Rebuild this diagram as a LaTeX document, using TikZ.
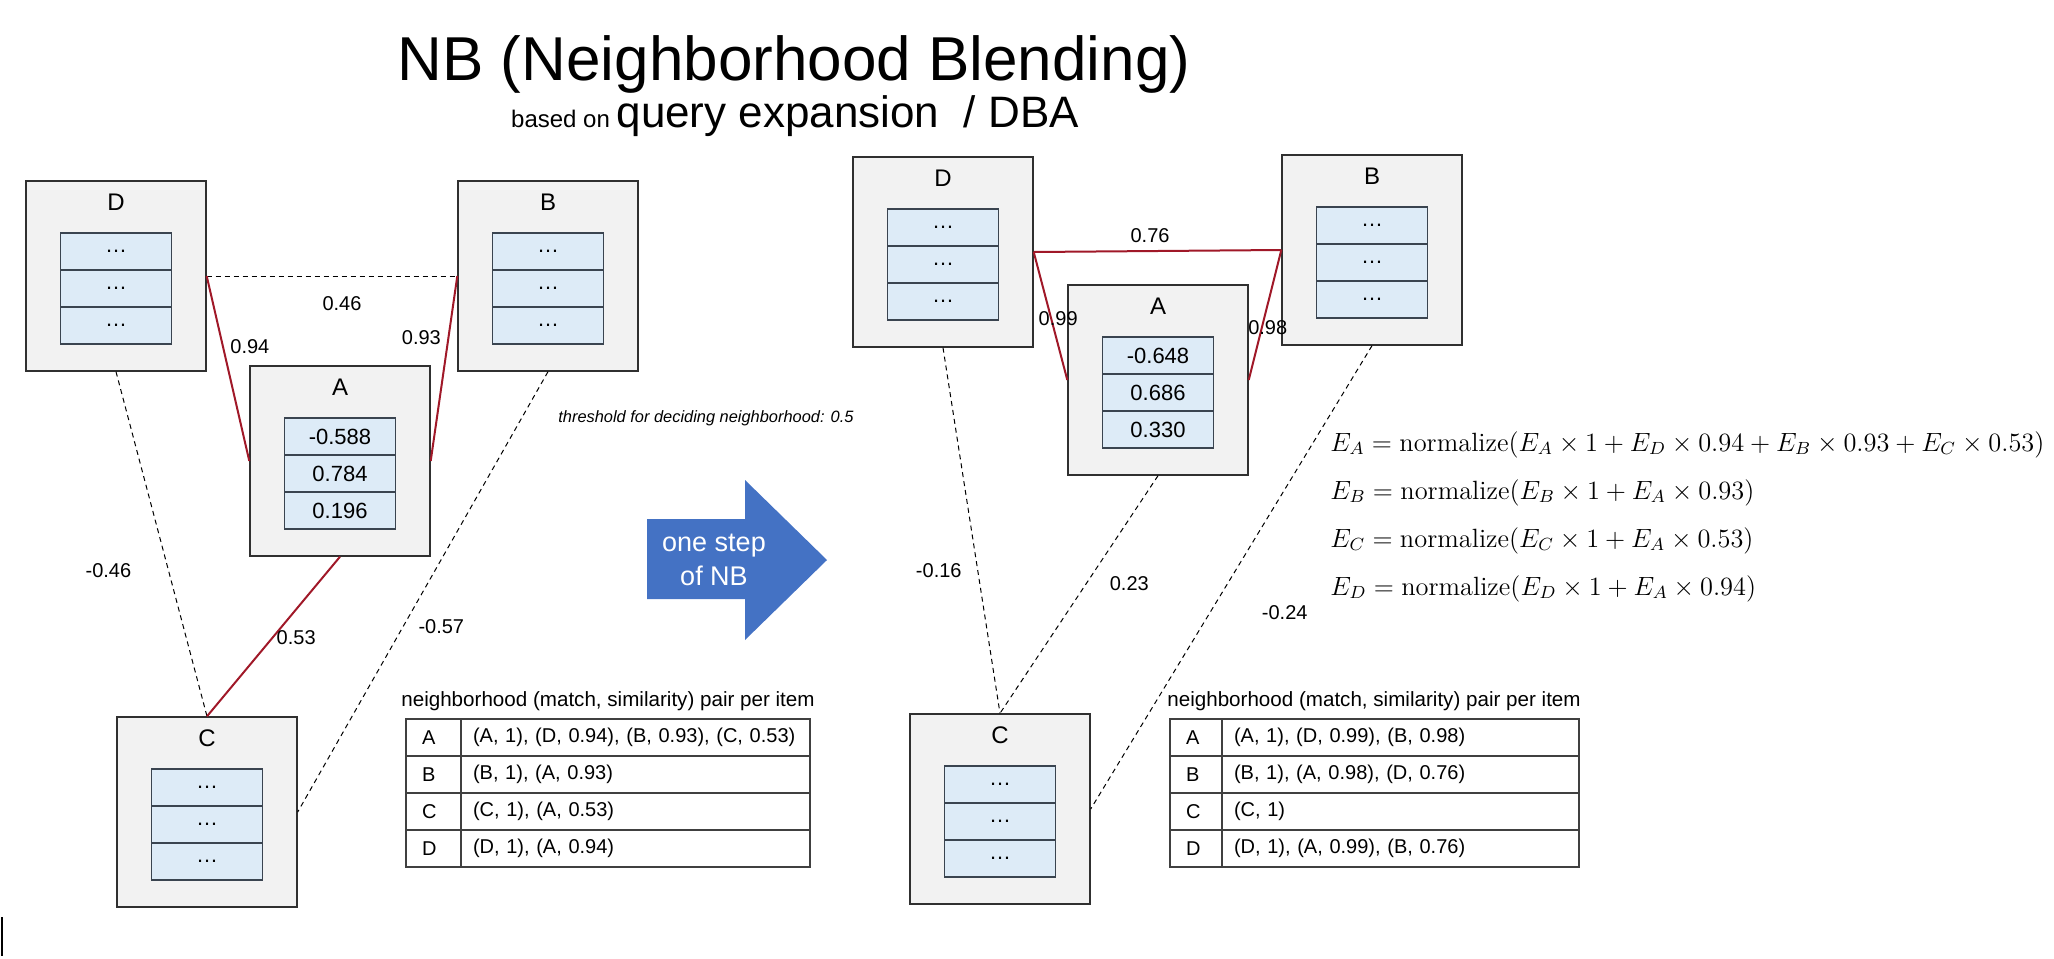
\documentclass[tikz,border=0pt]{standalone}
\usepackage{fontspec}
\newfontfamily\arialfont{Liberation Sans}
\usetikzlibrary{positioning}
\definecolor{boxgray}{HTML}{F2F2F2}
\definecolor{boxline}{HTML}{303030}
\definecolor{cellblue}{HTML}{DDEBF7}
\definecolor{cellline}{HTML}{3A4450}
\definecolor{simred}{HTML}{A01828}
\definecolor{stepblue}{HTML}{4472C4}
\definecolor{tabline}{HTML}{404040}
\tikzset{
	itembox/.style={draw=boxline, fill=boxgray, line width=0.7pt,
		minimum width=90pt, minimum height=95pt, inner sep=0pt},
	itemlbl/.style={font=\arialfont\fontsize{12}{14}\selectfont, inner sep=0pt},
	cell/.style={draw=cellline, fill=cellblue, line width=0.8pt, minimum width=55.5pt,
		minimum height=18.5pt, inner sep=0pt, outer sep=0pt,
		font=\arialfont\fontsize{11}{13}\selectfont},
	nbedge/.style={draw=simred, line width=1pt},
	faredge/.style={draw=black, line width=0.5pt, dash pattern=on 2.5pt off 2pt},
	simlbl/.style={font=\arialfont\fontsize{10}{12}\selectfont, inner sep=1pt},
	tabcell/.style={draw=tabline, line width=0.8pt, minimum height=18.5pt, inner ysep=0pt,
		outer sep=0pt, anchor=west, align=left, font=\arialfont\fontsize{10}{12}\selectfont},
	tabkey/.style={tabcell, inner xsep=8pt},
	tabval/.style={tabcell, inner xsep=6pt},
	tabttl/.style={font=\arialfont\fontsize{10.3}{12}\selectfont, inner sep=0pt},
	eqn/.style={anchor=base west, inner sep=0pt, font=\fontsize{12}{14}\selectfont}
}

\begin{document}
\begin{tikzpicture}[x=0.5pt, y=-0.5pt]
	\useasboundingbox (0,0) rectangle (2054,958);
	% title
	\node[anchor=base, font=\arialfont\fontsize{31}{36}\selectfont] (ttl) at (794,80) {NB (Neighborhood Blending)};
	\node[anchor=base, font=\arialfont] (subttl) at (795,127)
		{{\fontsize{12}{14}\selectfont based on }{\fontsize{22}{26}\selectfont query expansion~ / DBA}};
	% items before and after one step
	\foreach \nm/\x/\y/\lbl/\va/\vb/\vc in {
		lD/116/276/D/\ldots/\ldots/\ldots,
		lB/548/276/B/\ldots/\ldots/\ldots,
		lA/340/461/A/-0.588/0.784/0.196,
		lC/207/812/C/\ldots/\ldots/\ldots,
		rD/943/252/D/\ldots/\ldots/\ldots,
		rB/1372/250/B/\ldots/\ldots/\ldots,
		rA/1158/380/A/-0.648/0.686/0.330,
		rC/1000/809/C/\ldots/\ldots/\ldots}{
		\node[itembox] (\nm) at (\x,\y) {};
		\node[itemlbl] (\nm-t) at ([yshift=-11pt]\nm.north) {\lbl};
		\node[cell] (\nm-2) at ([yshift=-6.25pt]\nm.center) {\vb};
		\node[cell, above=0pt of \nm-2] (\nm-1) {\va};
		\node[cell, below=0pt of \nm-2] (\nm-3) {\vc};
	}
	% similarities, left
	\draw[faredge] (lD.east) -- node[simlbl, pos=.54, yshift=-14pt] (sDB) {0.46} (lB.west);
	\draw[nbedge] (lD.east) -- node[simlbl, pos=.38, xshift=13.5pt] (sDA) {0.94} (lA.west);
	\draw[nbedge] (lB.west) -- node[simlbl, pos=.335, xshift=-13.5pt] (sBA) {0.93} (lA.east);
	\draw[faredge] (lD.south) -- node[simlbl, pos=.576, xshift=-30pt] (sDC) {-0.46} (lC.north);
	\draw[nbedge] (lA.south) -- node[simlbl, pos=.51, xshift=12pt] (sAC) {0.53} (lC.north);
	\draw[faredge] (lB.south) -- node[simlbl, pos=.578, xshift=19pt] (sBC) {-0.57} (lC.east);
	% similarities, right
	\draw[nbedge] (rD.east) -- node[simlbl, pos=.47, yshift=7.5pt] (tDB) {0.76} (rB.west);
	\draw[nbedge] (rD.east) -- node[simlbl, pos=.52, xshift=3.5pt] (tDA) {0.99} (rA.west);
	\draw[nbedge] (rB.west) -- node[simlbl, pos=.6, xshift=3pt] (tBA) {0.98} (rA.east);
	\draw[faredge] (rD.south) -- node[simlbl, pos=.61, xshift=-19.5pt] (tDC) {-0.16} (rC.north);
	\draw[faredge] (rA.south) -- node[simlbl, pos=.454, xshift=21.5pt] (tAC) {0.23} (rC.north);
	\draw[faredge] (rB.south) -- node[simlbl, pos=.577, xshift=37.5pt] (tBC) {-0.24} (rC.east);
	% threshold and step arrow
	\node[anchor=base west, inner sep=0pt, font=\arialfont\itshape\fontsize{8.2}{10}\selectfont] (thr)
		at (558,422) {threshold for deciding neighborhood: 0.5};
	\fill[stepblue] (647,519) -- (745,519) -- (745,480) -- (827,560) -- (745,640) -- (745,599) -- (647,599) -- cycle;
	\node[align=center, text=white, font=\arialfont\fontsize{13.5}{17}\selectfont] (steplbl) at (714,560) {one step\\of NB};
	% update rule
	\node[eqn] (eqA) at (1330,451) {\scalebox{1.1}{$E_A = \mathrm{normalize}(E_A \times 1 + E_D \times 0.94 + E_B \times 0.93 + E_C \times 0.53)$}};
	\node[eqn] (eqB) at (1330,499) {\scalebox{1.1}{$E_B = \mathrm{normalize}(E_B \times 1 + E_A \times 0.93)$}};
	\node[eqn] (eqC) at (1330,547) {\scalebox{1.1}{$E_C = \mathrm{normalize}(E_C \times 1 + E_A \times 0.53)$}};
	\node[eqn] (eqD) at (1330,595) {\scalebox{1.1}{$E_D = \mathrm{normalize}(E_D \times 1 + E_A \times 0.94)$}};
	% neighborhood tables
	\node[tabttl] (lttl) at (608,701) {neighborhood (match, similarity) pair per item};
	\foreach \r/\k/\v in {0/A/{(A, 1), (D, 0.94), (B, 0.93), (C, 0.53)}, 1/B/{(B, 1), (A, 0.93)},
		2/C/{(C, 1), (A, 0.53)}, 3/D/{(D, 1), (A, 0.94)}}{
		\node[tabkey, text width=11.5pt] (lk\k) at (406,{737.5+37*\r}) {\k};
		\node[tabval, text width=162.5pt, right=0pt of lk\k] (lv\k) {\v};
	}
	\node[tabttl] (rttl) at (1374,701) {neighborhood (match, similarity) pair per item};
	\foreach \r/\k/\v in {0/A/{(A, 1), (D, 0.99), (B, 0.98)}, 1/B/{(B, 1), (A, 0.98), (D, 0.76)},
		2/C/{(C, 1)}, 3/D/{(D, 1), (A, 0.99), (B, 0.76)}}{
		\node[tabkey, text width=10pt] (rk\k) at (1170,{737.5+37*\r}) {\k};
		\node[tabval, text width=166.5pt, right=0pt of rk\k] (rv\k) {\v};
	}
	\draw[line width=1pt] (2,917) -- (2,956);
\end{tikzpicture}
\end{document}
